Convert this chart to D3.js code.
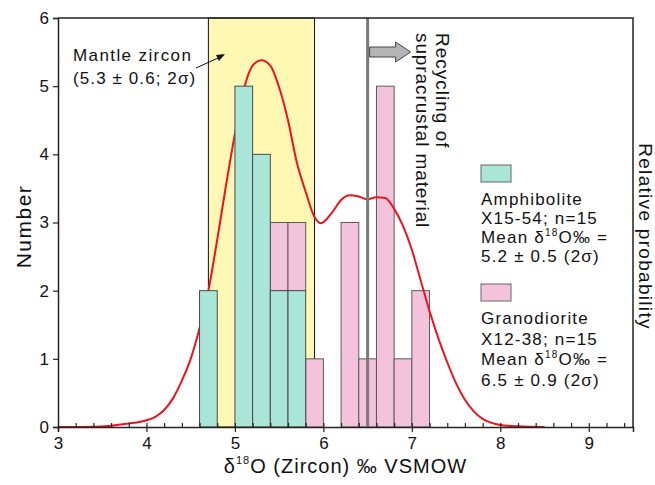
<!DOCTYPE html>
<html>
<head>
<meta charset="utf-8">
<script src="https://cdn.jsdelivr.net/npm/d3@7"></script>
<style>
  body { margin: 0; background: #fff; }
  svg text { font-family: "Liberation Sans", Arial, sans-serif; fill: #111; }
</style>
</head>
<body>
<svg id="chart" width="655" height="485"></svg>
<script>
// bins are 0.2 wide, value = left edge of bin
const binStarts = [4.6, 4.8, 5.0, 5.2, 5.4, 5.6, 5.8, 6.0, 6.2, 6.4, 6.6, 6.8, 7.0];
const amphibolite = [2, 0, 5, 4, 2, 2, 0, 0, 0, 0, 0, 0, 0];
const granodiorite = [0, 0, 0, 0, 1, 1, 1, 0, 3, 1, 5, 1, 2];
const binWidth = 0.2;

// relative probability curve (in count units)
const curveX = [3.0, 3.4, 3.6, 3.8, 4.0, 4.1, 4.2, 4.3, 4.4, 4.5, 4.6, 4.7, 4.8, 4.9, 5.0, 5.1, 5.2, 5.3, 5.4, 5.5, 5.6, 5.7, 5.8, 5.9, 5.97,
                6.1, 6.2, 6.3, 6.4, 6.5, 6.6, 6.7, 6.8, 6.9, 7.0, 7.1, 7.2, 7.3, 7.4, 7.5, 7.6, 7.7, 7.8, 7.9, 8.0, 8.2, 8.5];
const curveY = [0.0, 0.005, 0.02, 0.05, 0.1, 0.15, 0.25, 0.42, 0.68, 1.0, 1.45, 2.0, 2.75, 3.55, 4.3, 4.95, 5.3, 5.38, 5.3, 4.98, 4.5, 3.88, 3.45, 3.08, 2.99,
                3.15, 3.33, 3.40, 3.38, 3.34, 3.37, 3.36, 3.2, 2.95, 2.6, 2.15, 1.7, 1.3, 0.95, 0.64, 0.4, 0.23, 0.12, 0.06, 0.03, 0.01, 0.0];

const xTicks = [3, 4, 5, 6, 7, 8, 9];
const yTicks = [0, 1, 2, 3, 4, 5, 6];
const mantleMean = 5.3, mantleErr = 0.6;
const recycleLimit = 6.5;

const svg = d3.select("#chart");
const margin = { top: 18, right: 22, bottom: 58, left: 58 };
const width = 655, height = 485;

const x = d3.scaleLinear().domain([3, 9.5]).range([margin.left, width - margin.right]);
const y = d3.scaleLinear().domain([0, 6]).range([height - margin.bottom, margin.top]);

const teal = "#a9e6d7", pink = "#f3c3dc", yellow = "#fef8b4";

// mantle zircon band
svg.append("rect")
    .attr("x", x(mantleMean - mantleErr))
    .attr("y", y(6))
    .attr("width", x(mantleMean + mantleErr) - x(mantleMean - mantleErr))
    .attr("height", y(0) - y(6))
    .attr("fill", yellow)
    .attr("stroke", "#111")
    .attr("stroke-width", 1);

const bins = binStarts.map((b, i) => ({ x0: b, a: amphibolite[i], g: granodiorite[i] }));

// granodiorite stacked on amphibolite
svg.append("g").selectAll("rect")
    .data(bins.filter(d => d.g > 0))
    .enter().append("rect")
    .attr("x", d => x(d.x0))
    .attr("y", d => y(d.a + d.g))
    .attr("width", d => x(d.x0 + binWidth) - x(d.x0))
    .attr("height", d => y(d.a) - y(d.a + d.g))
    .attr("fill", pink)
    .attr("stroke", "#5a5a5a")
    .attr("stroke-width", 1);

// probability curve
const pts = curveX.map((v, i) => [v, curveY[i]]);
svg.append("path")
    .datum(pts)
    .attr("fill", "none")
    .attr("stroke", "#e8141e")
    .attr("stroke-width", 2)
    .attr("d", d3.line().x(d => x(d[0])).y(d => y(d[1])).curve(d3.curveMonotoneX));

svg.append("g").selectAll("rect")
    .data(bins.filter(d => d.a > 0))
    .enter().append("rect")
    .attr("x", d => x(d.x0))
    .attr("y", d => y(d.a))
    .attr("width", d => x(d.x0 + binWidth) - x(d.x0))
    .attr("height", d => y(0) - y(d.a))
    .attr("fill", teal)
    .attr("stroke", "#4a4a4a")
    .attr("stroke-width", 1);

// recycling threshold line
svg.append("line")
    .attr("x1", x(recycleLimit)).attr("x2", x(recycleLimit))
    .attr("y1", y(6)).attr("y2", y(0))
    .attr("stroke", "#7a7a7a")
    .attr("stroke-width", 3);

// block arrow
const ax = x(recycleLimit) + 2, ay = 52;
svg.append("polygon")
    .attr("points", [[ax, ay - 5], [ax + 26, ay - 5], [ax + 26, ay - 10], [ax + 41, ay], [ax + 26, ay + 10], [ax + 26, ay + 5], [ax, ay + 5]].join(" "))
    .attr("fill", "#b4b4b4")
    .attr("stroke", "#444")
    .attr("stroke-width", 1);

// axes
const xAxis = svg.append("g")
    .attr("transform", `translate(0,${y(0)})`)
    .call(d3.axisBottom(x).tickValues(xTicks).tickSize(5).tickPadding(5).tickFormat(d3.format("d")));
svg.append("g")
    .attr("transform", `translate(0,${y(0)})`)
    .call(d3.axisBottom(x).tickValues(d3.range(3.2, 9.45, 0.2)).tickSize(-4).tickFormat(""))
    .call(g => g.select(".domain").remove());

const yAxis = svg.append("g")
    .attr("transform", `translate(${margin.left},0)`)
    .call(d3.axisLeft(y).tickValues(yTicks).tickSize(5).tickPadding(4).tickFormat(d3.format("d")));

[xAxis, yAxis].forEach(g => {
    g.selectAll("text").attr("font-size", "17px").attr("fill", "#111");
    g.selectAll("line").attr("stroke", "#222");
    g.select(".domain").attr("stroke", "#222").attr("stroke-width", 1.5);
});
svg.selectAll(".tick line").attr("stroke", "#222").attr("stroke-width", 1.2);

// top and right frame
svg.append("path")
    .attr("d", `M${x(3)},${y(6)}H${x(9.5)}V${y(0)}`)
    .attr("fill", "none")
    .attr("stroke", "#222")
    .attr("stroke-width", 1.5);

// axis titles
svg.append("text")
    .attr("transform", `translate(31,${(y(0) + y(6)) / 2 + 4}) rotate(-90)`)
    .attr("text-anchor", "middle")
    .attr("font-size", "21px")
    .attr("letter-spacing", "1.5px")
    .text("Number");

const xt = svg.append("text")
    .attr("x", (x(3) + x(9.5)) / 2)
    .attr("y", 473)
    .attr("text-anchor", "middle")
    .attr("font-size", "20px")
    .attr("letter-spacing", "1px");
xt.append("tspan").text("\u03b4");
xt.append("tspan").attr("font-size", "11px").attr("dy", -9).text("18");
xt.append("tspan").attr("dy", 9).text("O (Zircon) \u2030 VSMOW");

svg.append("text")
    .attr("transform", `translate(639,${(y(0) + y(6)) / 2 + 14}) rotate(90)`)
    .attr("text-anchor", "middle")
    .attr("font-size", "19px")
    .attr("letter-spacing", "1.3px")
    .text("Relative probability");

// mantle annotation
svg.append("text").attr("x", 73).attr("y", 61).attr("font-size", "17px").attr("letter-spacing", "1.4px").text("Mantle zircon");
svg.append("text").attr("x", 73).attr("y", 84).attr("font-size", "17px").attr("letter-spacing", "1.1px").text("(5.3 \u00b1 0.6; 2\u03c3)");
svg.append("line").attr("x1", 196).attr("y1", 68).attr("x2", 218).attr("y2", 58)
    .attr("stroke", "#111").attr("stroke-width", 1);
svg.append("polygon")
    .attr("points", "225,54 216,55 219,61")
    .attr("fill", "#111");

// recycling annotation
svg.append("text")
    .attr("transform", `translate(436,33) rotate(90)`)
    .attr("font-size", "19px")
    .attr("letter-spacing", "1px")
    .text("Recycling of");
svg.append("text")
    .attr("transform", `translate(416,33) rotate(90)`)
    .attr("font-size", "19px")
    .attr("letter-spacing", "0.9px")
    .text("supracrustal material");

// legend
const legends = [
    { color: teal, y: 165, lines: ["Amphibolite", "X15-54; n=15", "Mean", "5.2 \u00b1 0.5 (2\u03c3)"], base: 205, step: 19 },
    { color: pink, y: 284, lines: ["Granodiorite", "X12-38; n=15", "Mean", "6.5 \u00b1 0.9 (2\u03c3)"], base: 324, step: 20.5 }
];
legends.forEach(l => {
    svg.append("rect")
        .attr("x", 481).attr("y", l.y).attr("width", 30).attr("height", 17)
        .attr("fill", l.color).attr("stroke", "#666").attr("stroke-width", 1);
    l.lines.forEach((t, i) => {
        const txt = svg.append("text")
            .attr("x", 481).attr("y", l.base + i * l.step)
            .attr("font-size", "17px")
            .attr("letter-spacing", "1.2px");
        if (t === "Mean") {
            txt.append("tspan").text("Mean \u03b4");
            txt.append("tspan").attr("font-size", "10px").attr("dy", -7).text("18");
            txt.append("tspan").attr("dy", 7).text("O\u2030 =");
        } else {
            txt.text(t);
        }
    });
});
</script>
</body>
</html>
